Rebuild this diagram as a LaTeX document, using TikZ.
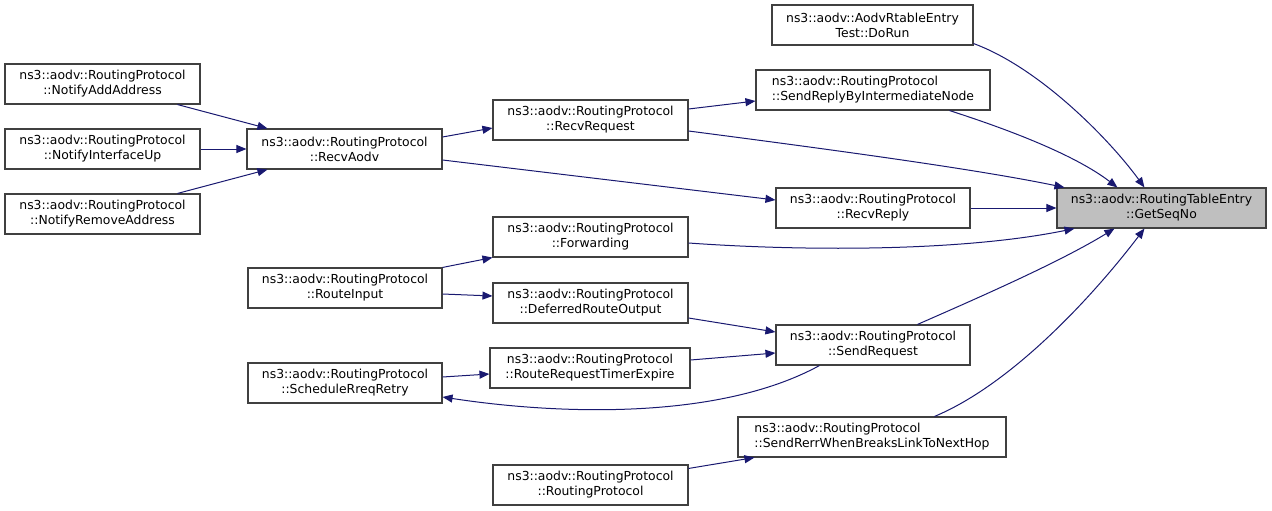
\documentclass[tikz,border=0pt]{standalone}
\usepackage{fontspec}
\setmainfont{DejaVu Sans}
\usetikzlibrary{arrows.meta,calc}
\definecolor{edgec}{HTML}{191970}
\definecolor{boxc}{HTML}{404040}
\definecolor{grayfill}{HTML}{BFBFBF}
\begin{document}
\begin{tikzpicture}[x=1pt,y=-1pt,
  fn/.style={draw=boxc,line width=1.1pt,fill=white,rectangle,inner sep=0pt,
    minimum height=40pt,align=center,font=\fontsize{12.4}{15}\selectfont},
  fnl/.style={fn,align=left},
  hl/.style={fn,fill=grayfill},
  call/.style={draw=edgec,line width=1pt,-{Triangle[length=10pt,width=8pt]}}]
\useasboundingbox (0,0) rectangle (1272,511);
\node[hl, minimum width=209pt] (gs) at (1161.5,208) {ns3::aodv::RoutingTableEntry\\::GetSeqNo};
\node[fn, minimum width=201pt] (dorun) at (872.5,25) {ns3::aodv::AodvRtableEntry\\Test::DoRun};
\node[fnl, minimum width=234pt] (srbin) at (873,90) {ns3::aodv::RoutingProtocol\\::SendReplyByIntermediateNode};
\node[fn, minimum width=195pt] (rreq) at (590.5,120) {ns3::aodv::RoutingProtocol\\::RecvRequest};
\node[fn, minimum width=194pt] (rrep) at (873,208) {ns3::aodv::RoutingProtocol\\::RecvReply};
\node[fn, minimum width=195pt] (fwd) at (590.5,237) {ns3::aodv::RoutingProtocol\\::Forwarding};
\node[fn, minimum width=195pt] (raodv) at (344.5,149) {ns3::aodv::RoutingProtocol\\::RecvAodv};
\node[fn, minimum width=195pt] (naa) at (102.5,84) {ns3::aodv::RoutingProtocol\\::NotifyAddAddress};
\node[fn, minimum width=195pt] (niu) at (102.5,149) {ns3::aodv::RoutingProtocol\\::NotifyInterfaceUp};
\node[fn, minimum width=195pt] (nra) at (102.5,214) {ns3::aodv::RoutingProtocol\\::NotifyRemoveAddress};
\node[fn, minimum width=194pt] (rin) at (345,288) {ns3::aodv::RoutingProtocol\\::RouteInput};
\node[fn, minimum width=195pt] (dro) at (590.5,303) {ns3::aodv::RoutingProtocol\\::DeferredRouteOutput};
\node[fn, minimum width=200pt] (rrte) at (590,368) {ns3::aodv::RoutingProtocol\\::RouteRequestTimerExpire};
\node[fn, minimum width=194pt] (srr) at (345,383) {ns3::aodv::RoutingProtocol\\::ScheduleRreqRetry};
\node[fn, minimum width=194pt] (sreq) at (873,345) {ns3::aodv::RoutingProtocol\\::SendRequest};
\node[fnl, minimum width=268pt] (serr) at (872,437) {ns3::aodv::RoutingProtocol\\::SendRerrWhenBreaksLinkToNextHop};
\node[fn, minimum width=195pt] (rp) at (590.5,485) {ns3::aodv::RoutingProtocol\\::RoutingProtocol};
% edges into GetSeqNo
\draw[call] ($(dorun.south east)+(0,-2)$) .. controls (1040,68) and (1110,140) .. ($(gs.north west)+(88,0)$);
\draw[call] ($(srbin.south west)+(194,0)$) .. controls (1010,130) and (1075,155) .. ($(gs.north west)+(61,0)$);
\draw[call] ($(rreq.east)+(0,11)$) .. controls (850,152) and (980,170) .. ($(gs.north west)+(8,0)$);
\draw[call] (rrep.east) -- (gs.west);
\draw[call] ($(fwd.east)+(0,6)$) .. controls (800,251) and (960,252) .. ($(gs.south west)+(18,0)$);
\draw[call] ($(sreq.north west)+(142,0)$) .. controls (980,297) and (1060,262) .. ($(gs.south west)+(58,0)$);
\draw[call] ($(serr.north west)+(197,0)$) .. controls (1010,385) and (1090,300) .. ($(gs.south west)+(88,0)$);
% other edges
\draw[call] ($(rreq.east)+(0,-11)$) -- ($(srbin.west)+(0,11)$);
\draw[call] ($(raodv.east)+(0,-12)$) -- ($(rreq.west)+(0,8)$);
\draw[call] ($(raodv.east)+(0,11)$) -- ($(rrep.west)+(0,-8)$);
\draw[call] ($(naa.south west)+(173,0)$) -- ($(raodv.north west)+(21,0)$);
\draw[call] (niu.east) -- (raodv.west);
\draw[call] ($(nra.north west)+(173,0)$) -- ($(raodv.south west)+(21,0)$);
\draw[call] (rin.north east) -- (fwd.south west);
\draw[call] ($(rin.east)+(0,6)$) -- ($(dro.west)+(0,-7)$);
\draw[call] ($(dro.east)+(0,15)$) -- ($(sreq.west)+(0,-13)$);
\draw[call] ($(rrte.east)+(0,-8)$) -- ($(sreq.west)+(0,8)$);
\draw[call] ($(srr.east)+(0,-6)$) -- ($(rrte.west)+(0,6)$);
\draw[call] ($(sreq.south west)+(44,0)$) .. controls (720,420) and (560,415) .. ($(srr.east)+(0,14)$);
\draw[call] ($(rp.north east)+(0,4)$) -- ($(serr.south west)+(17,0)$);
\end{tikzpicture}
\end{document}
